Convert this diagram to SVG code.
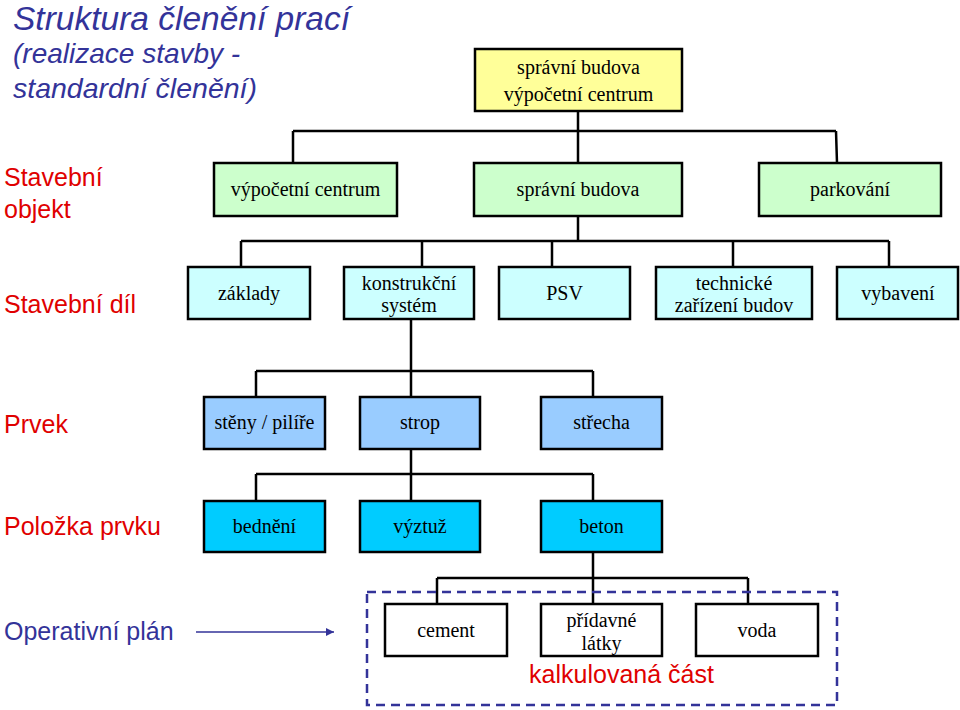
<svg xmlns="http://www.w3.org/2000/svg" width="960" height="710" viewBox="0 0 960 710">
<defs>
<style>
.box{stroke:#000;stroke-width:2.5}
.y{fill:#ffff99}.g{fill:#ccffcc}.c{fill:#ccffff}.b{fill:#99ccff}.d{fill:#00ccff}.w{fill:#fff}
.t{font-family:"Liberation Serif","Times New Roman",serif;font-size:20px;fill:#000;text-anchor:middle}
.lbl{font-family:"Liberation Sans",Arial,sans-serif;font-size:25px;fill:#e00000}
.nv{fill:#333399}
.title{font-family:"Liberation Sans",Arial,sans-serif;font-style:italic;fill:#333399}
.conn{stroke:#000;stroke-width:2.5;fill:none}
</style>
<marker id="ah" viewBox="0 0 10 10" refX="10" refY="5" markerWidth="10" markerHeight="8" markerUnits="userSpaceOnUse" orient="auto">
<path d="M0,0 L10,5 L0,10 z" fill="#333399"/>
</marker>
</defs>
<rect width="960" height="710" fill="#fff"/>

<g id="titles">
<text class="title" x="13" y="30" font-size="33.5">Struktura členění prací</text>
<text class="title" x="13" y="63" font-size="28">(realizace stavby -</text>
<text class="title" x="13" y="98" font-size="28.5">standardní členění)</text>
</g>

<g id="levels">
<text class="lbl" x="4" y="186">Stavební</text>
<text class="lbl" x="4" y="218">objekt</text>
<text class="lbl" x="4" y="313">Stavební díl</text>
<text class="lbl" x="4" y="433">Prvek</text>
<text class="lbl" x="4" y="535">Položka prvku</text>
<text class="lbl nv" x="4" y="640">Operativní plán</text>
</g>

<g id="connectors">
<path class="conn" d="M578,111V131M293,131H836M293,131V163M578,131V163M836,131L837,163"/>
<path class="conn" d="M578,216V241M241,241H889M241,241V267M422,241V267M552,241V267M733,241V267M889,241V267"/>
<path class="conn" d="M411,319V371M256,371H593M256,371V397M411,371V397M593,371V397"/>
<path class="conn" d="M411,449V501M256,474H593M256,474V501M593,474V501"/>
<path class="conn" d="M593,552V578M437,578H748M437,578V604M593,578V604M748,578V604"/>
<line x1="196" y1="632" x2="334" y2="632" stroke="#333399" stroke-width="1.5" marker-end="url(#ah)"/>
</g>

<g id="root">
<rect class="box y" x="475" y="49" width="207" height="62"/>
<text class="t" x="578.5" y="74" font-size="22.5">správní budova</text>
<text class="t" x="578.5" y="101" font-size="22.5">výpočetní centrum</text>
</g>

<g id="n-vc">
<rect class="box g" x="214" y="163" width="183" height="53"/>
<text class="t" x="305.5" y="196">výpočetní centrum</text>
</g>
<g id="n-sb">
<rect class="box g" x="474" y="163" width="208" height="53"/>
<text class="t" x="578" y="196">správní budova</text>
</g>
<g id="n-park">
<rect class="box g" x="759" y="163" width="182" height="53"/>
<text class="t" x="850" y="196">parkování</text>
</g>

<g id="n-zakl">
<rect class="box c" x="188" y="267" width="122" height="52"/>
<text class="t" x="249" y="300">základy</text>
</g>
<g id="n-ks">
<rect class="box c" x="344" y="267" width="130" height="52"/>
<text class="t" x="409" y="290">konstrukční</text>
<text class="t" x="409" y="312">systém</text>
</g>
<g id="n-psv">
<rect class="box c" x="499" y="267" width="131" height="52"/>
<text class="t" x="564.5" y="300">PSV</text>
</g>
<g id="n-tzb">
<rect class="box c" x="656" y="267" width="156" height="52"/>
<text class="t" x="734" y="290">technické</text>
<text class="t" x="734" y="312">zařízení budov</text>
</g>
<g id="n-vyb">
<rect class="box c" x="837" y="267" width="121" height="52"/>
<text class="t" x="898" y="300">vybavení</text>
</g>

<g id="n-steny">
<rect class="box b" x="204" y="397" width="121" height="52"/>
<text class="t" x="264.5" y="429">stěny / pilíře</text>
</g>
<g id="n-strop">
<rect class="box b" x="360" y="397" width="120" height="52"/>
<text class="t" x="420" y="429">strop</text>
</g>
<g id="n-strecha">
<rect class="box b" x="541" y="397" width="121" height="52"/>
<text class="t" x="601.5" y="429">střecha</text>
</g>

<g id="n-bedneni">
<rect class="box d" x="204" y="501" width="121" height="51"/>
<text class="t" x="264.5" y="533">bednění</text>
</g>
<g id="n-vyztuz">
<rect class="box d" x="360" y="501" width="120" height="51"/>
<text class="t" x="420" y="533">výztuž</text>
</g>
<g id="n-beton">
<rect class="box d" x="541" y="501" width="121" height="51"/>
<text class="t" x="601.5" y="533">beton</text>
</g>

<g id="calc">
<rect x="367" y="592" width="470" height="113" fill="none" stroke="#333399" stroke-width="2.5" stroke-dasharray="9,6"/>
<text class="lbl" x="621.5" y="683" text-anchor="middle" font-size="25.5">kalkulovaná část</text>
</g>

<g id="n-cement">
<rect class="box w" x="385" y="604" width="122" height="52"/>
<text class="t" x="446" y="637">cement</text>
</g>
<g id="n-pridavne">
<rect class="box w" x="541" y="604" width="121" height="52"/>
<text class="t" x="601.5" y="627">přídavné</text>
<text class="t" x="601.5" y="650">látky</text>
</g>
<g id="n-voda">
<rect class="box w" x="696" y="604" width="122" height="52"/>
<text class="t" x="757" y="637">voda</text>
</g>
</svg>
